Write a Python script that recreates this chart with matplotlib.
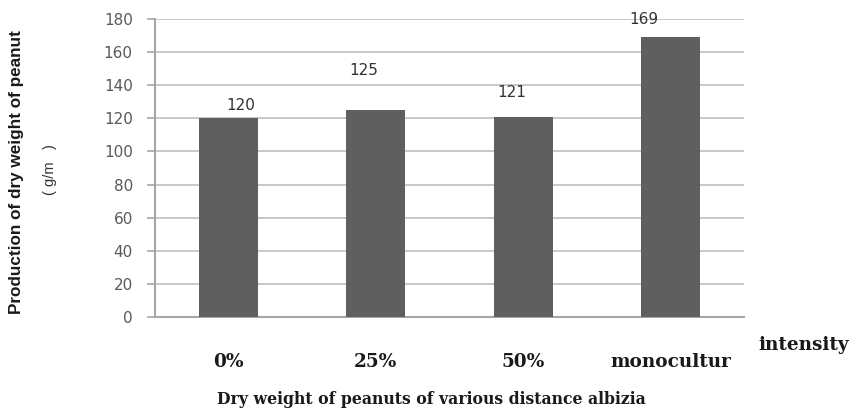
import numpy as np
import matplotlib
matplotlib.use("Agg")
import matplotlib.pyplot as plt

# dry weight of peanut per albizia distance treatment
categories = ["0%", "25%", "50%", "monocultur"]
dry_weight = [120, 125, 121, 169]
# where each value label sits (Excel had them dragged around)
label_dx = [0.08, -0.08, -0.075, -0.18]
label_y = [128, 149, 135.5, 179.4]
yticks = list(range(0, 181, 20))

BAR = "#5f5f5f"
GRID = "#c4c4c4"
TICK = "#595959"

fig = plt.figure(figsize=(8.52, 4.13), dpi=100, facecolor="white")
ax = fig.add_axes([155 / 852, 1 - 317 / 413, 589 / 852, 298 / 413])

x = np.arange(len(categories))
ax.bar(x, dry_weight, width=0.40, color=BAR, zorder=3)

for xi, dx, ly, v in zip(x, label_dx, label_y, dry_weight):
    ax.text(xi + dx, ly, f"{v}", ha="center", va="center",
            fontsize=11, color="#333333", zorder=4)

ax.set_xlim(-0.5, len(categories) - 0.5)
ax.set_ylim(0, 180)
ax.set_yticks(yticks)
ax.yaxis.grid(True, color=GRID, lw=1.3, zorder=0)
ax.set_axisbelow(True)

for side in ["top", "right"]:
    ax.spines[side].set_visible(False)
for side in ["left", "bottom"]:
    ax.spines[side].set_color("#a6a6a6")
    ax.spines[side].set_linewidth(1.5)

ax.tick_params(axis="y", colors="#a6a6a6", length=6, width=1.2, pad=10,
               labelcolor=TICK, labelsize=11)
ax.set_xticks(x)
ax.set_xticklabels(categories, fontfamily="DejaVu Serif", fontweight="bold",
                   fontsize=13.3, color="#1a1a1a")
ax.tick_params(axis="x", length=0, pad=26)

fig.text(758 / 852, 1 - 345 / 413, "intensity", ha="left", va="center",
         fontfamily="DejaVu Serif", fontweight="bold", fontsize=13.3,
         color="#1a1a1a")
fig.text(431 / 852, 1 - 400 / 413,
         "Dry weight of peanuts of various distance albizia",
         ha="center", va="center", fontfamily="DejaVu Serif",
         fontweight="bold", fontsize=11.3, color="#1a1a1a")

fig.text(17 / 852, 1 - 172 / 413, "Production of dry weight of peanut",
         rotation=90, ha="center", va="center",
         fontfamily="Liberation Sans", fontweight="bold", fontsize=12.3,
         color="#1a1a1a")
fig.text(50 / 852, 1 - 170 / 413, "( g/m   )", rotation=90,
         ha="center", va="center", fontfamily="Liberation Sans",
         fontsize=10.5, color="#333333")

fig.savefig("out.png", dpi=100, facecolor="white")
